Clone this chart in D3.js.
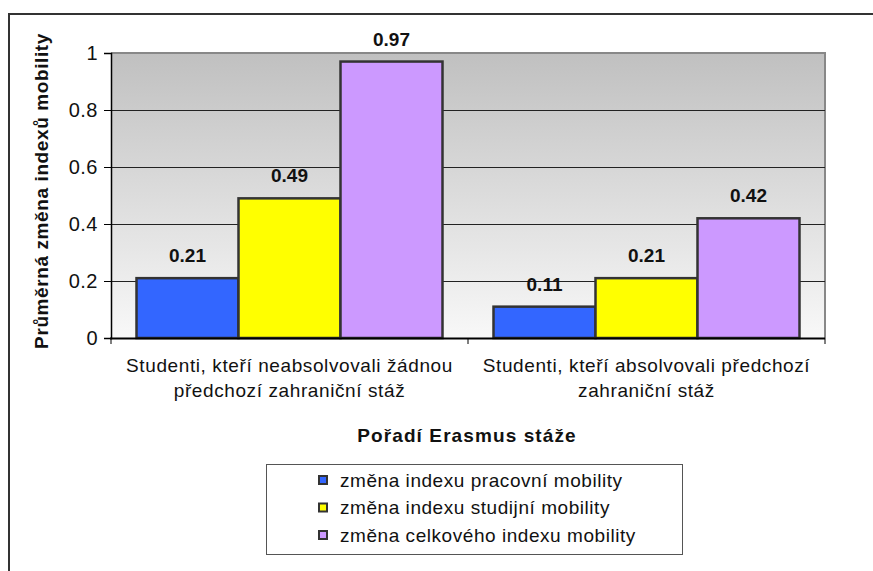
<!DOCTYPE html>
<html><head><meta charset="utf-8">
<script src="https://cdn.jsdelivr.net/npm/d3@7"></script>
<style>body{margin:0;background:#fff;} text{font-family:Arial,"Liberation Sans",sans-serif;}</style>
</head><body>
<svg id="c" width="873" height="571"></svg>
<script>
const categories = [["Studenti, kteří neabsolvovali žádnou","předchozí zahraniční stáž"],["Studenti, kteří absolvovali předchozí","zahraniční stáž"]];
const seriesNames = ["změna indexu pracovní mobility","změna indexu studijní mobility","změna celkového indexu mobility"];
const seriesColors = ["#3366FF","#FFFF00","#CC99FF"];
const values = [[0.21,0.49,0.97],[0.11,0.21,0.42]];
const yTicks = [0,0.2,0.4,0.6,0.8,1];
const yTickLabels = ["0","0.2","0.4","0.6","0.8","1"];
const yTitle = "Průměrná změna indexů mobility";
const xTitle = "Pořadí Erasmus stáže";

const svg = d3.select("#c");
const L=111, R=825, T=53, B=338;

// outer frame
svg.append("path").attr("d","M9,571 L9,14 L873,14").attr("fill","none").attr("stroke","#333").attr("stroke-width",2);

const defs = svg.append("defs");
const g = defs.append("linearGradient").attr("id","bg").attr("x1",0).attr("y1",0).attr("x2",0).attr("y2",1);
g.append("stop").attr("offset","0%").attr("stop-color","#c0c0c0");
g.append("stop").attr("offset","100%").attr("stop-color","#f8f8f8");

const x0 = d3.scaleBand().domain(d3.range(categories.length)).range([L,R]).paddingInner(0).paddingOuter(0);
const x1 = d3.scaleBand().domain(d3.range(seriesNames.length)).range([0,x0.bandwidth()]).paddingInner(0).paddingOuter(0.25);
const y = d3.scaleLinear().domain([0,1]).range([B,T]);

svg.append("rect").attr("x",L).attr("y",T).attr("width",R-L).attr("height",B-T).attr("fill","url(#bg)");
svg.append("path").attr("d",`M${L},${T} L${R},${T} L${R},${B}`).attr("fill","none").attr("stroke","#888").attr("stroke-width",2);

// gridlines
svg.append("g").selectAll("line").data(yTicks.slice(1,-1)).join("line")
  .attr("x1",L).attr("x2",R).attr("y1",d=>Math.round(y(d))+0.5).attr("y2",d=>Math.round(y(d))+0.5)
  .attr("stroke","#222").attr("stroke-width",1);

// bars
const grp = svg.append("g").selectAll("g").data(values).join("g").attr("transform",(d,i)=>`translate(${x0(i)},0)`);
grp.selectAll("rect").data(d=>d).join("rect")
  .attr("x",(d,j)=>x1(j)).attr("y",d=>y(d)).attr("width",x1.bandwidth()).attr("height",d=>B-y(d))
  .attr("fill",(d,j)=>seriesColors[j]).attr("stroke","#333").attr("stroke-width",2.5);
grp.selectAll("text").data(d=>d).join("text")
  .attr("x",(d,j)=>x1(j)+x1.bandwidth()/2).attr("y",d=>y(d)-16)
  .attr("text-anchor","middle").attr("font-weight","bold").attr("font-size","19px").attr("fill","#111")
  .text(d=>d.toFixed(2));

// y axis
const ya = svg.append("g").attr("transform",`translate(${L},0)`)
  .call(d3.axisLeft(y).tickValues(yTicks).tickFormat((d,i)=>yTickLabels[i]).tickSize(7).tickPadding(6));
ya.select(".domain").attr("stroke","#000").attr("stroke-width",1.5);
ya.selectAll(".tick line").attr("stroke","#000");
ya.selectAll("text").attr("font-size","20px").attr("fill","#111").style("font-family","Arial").style("letter-spacing","0.5px");

// x axis
svg.append("line").attr("x1",L-1).attr("x2",R).attr("y1",B+0.5).attr("y2",B+0.5).attr("stroke","#000").attr("stroke-width",2);
svg.append("g").selectAll("line").data(d3.range(categories.length+1)).join("line")
  .attr("x1",i=>L+i*x0.bandwidth()).attr("x2",i=>L+i*x0.bandwidth()).attr("y1",B).attr("y2",B+6).attr("stroke","#000");

// category labels
categories.forEach((lines,i)=>{
  const t = svg.append("text").attr("text-anchor","middle").attr("font-size","19px").attr("fill","#111").style("letter-spacing","0.6px");
  lines.forEach((ln,k)=>t.append("tspan").attr("x",x0(i)+x0.bandwidth()/2).attr("y",372+k*25).text(ln));
});

// axis titles
svg.append("text").attr("x",467).attr("y",442).attr("text-anchor","middle").attr("font-weight","bold").attr("font-size","19px").attr("fill","#111").style("letter-spacing","1.1px").text(xTitle);
svg.append("text").attr("transform","translate(48,191) rotate(-90)").attr("text-anchor","middle").attr("font-weight","bold").attr("font-size","19px").attr("fill","#111").style("letter-spacing","0.6px").text(yTitle);

// legend
svg.append("rect").attr("x",266.5).attr("y",464.5).attr("width",416).attr("height",90).attr("fill","#fff").attr("stroke","#555").attr("stroke-width",1);
const lg = svg.append("g").selectAll("g").data(seriesNames).join("g").attr("transform",(d,i)=>`translate(319,${480+i*27.5})`);
lg.append("rect").attr("x",0).attr("y",-4).attr("width",8).attr("height",8).attr("fill",(d,i)=>seriesColors[i]).attr("stroke","#333").attr("stroke-width",2);
lg.append("text").attr("x",21).attr("y",6.5).attr("font-size","19px").attr("fill","#111").style("letter-spacing","0.55px").text(d=>d);
</script>
</body></html>
